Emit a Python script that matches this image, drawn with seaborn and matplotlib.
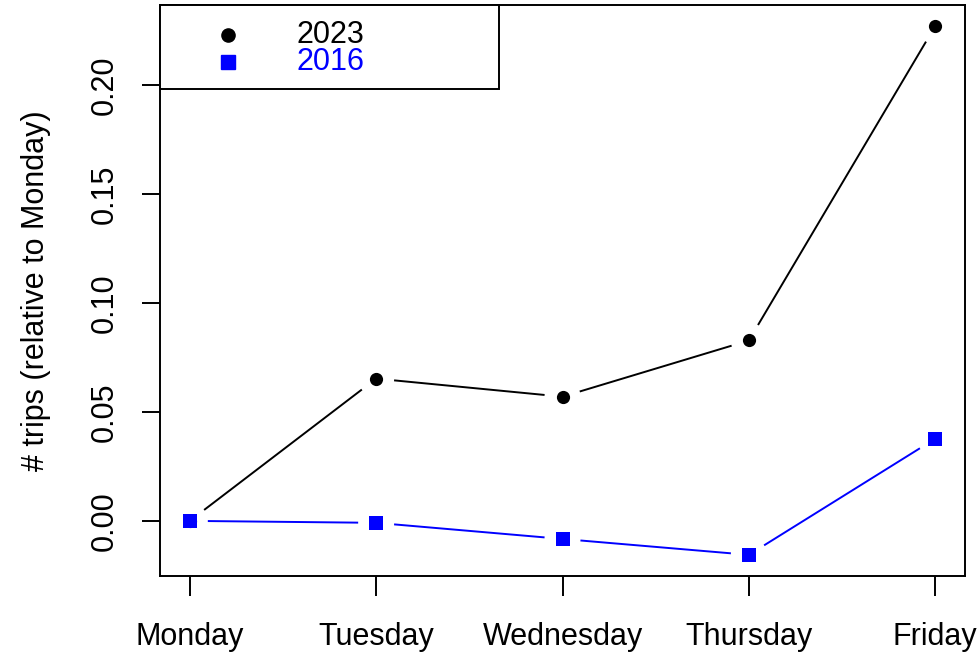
import numpy as np
import pandas as pd
import matplotlib
matplotlib.use("Agg")
import matplotlib.pyplot as plt
from matplotlib.patches import Rectangle
import seaborn as sns

# Weekday trip counts relative to Monday
days = ["Monday", "Tuesday", "Wednesday", "Thursday", "Friday"]
trips_2023 = [0.0, 0.0653, 0.0570, 0.0828, 0.2271]
trips_2016 = [0.0, -0.0009, -0.0083, -0.0156, 0.0377]
years = ["2023", "2016"]
y_ticks = [0.00, 0.05, 0.10, 0.15, 0.20]

colors = {"2023": "black", "2016": "#0000ff"}
markers = {"2023": "o", "2016": "s"}
msize = {"2023": 9.5, "2016": 10}

sns.set_style("white")
plt.rcParams["font.family"] = ["Liberation Sans", "DejaVu Sans"]
plt.rcParams["font.size"] = 22
plt.rcParams["text.color"] = "black"
plt.rcParams["xtick.color"] = "black"
plt.rcParams["ytick.color"] = "black"
plt.rcParams["axes.labelcolor"] = "black"

df = pd.DataFrame({
    "pos": list(range(len(days))) * 2,
    "value": trips_2023 + trips_2016,
    "year": ["2023"] * len(days) + ["2016"] * len(days),
})

fig = plt.figure(figsize=(9.8, 6.53), dpi=100)
ax = fig.add_axes([160 / 980, 77 / 653, 805 / 980, 571 / 653])

# axis ranges with 4% padding on each side
n = len(days)
ax.set_xlim(-0.04 * (n - 1), (n - 1) * 1.04)
allv = np.array(trips_2023 + trips_2016)
lo, hi = allv.min(), allv.max()
pad = 0.04 * (hi - lo)
ax.set_ylim(lo - pad, hi + pad)

for yr in years:
    sub = df[df["year"] == yr]
    sns.scatterplot(data=sub, x="pos", y="value", ax=ax, color=colors[yr],
                    marker=markers[yr], s=msize[yr] ** 2, linewidth=0,
                    legend=False, zorder=3)


def gapped_line(ax, xs, ys, color, gap_px=18):
    """Connect points with segments that stop short of each marker."""
    pts = ax.transData.transform(np.column_stack([xs, ys]))
    inv = ax.transData.inverted()
    for p0, p1 in zip(pts[:-1], pts[1:]):
        d = p1 - p0
        length = np.hypot(*d)
        if length <= 2 * gap_px:
            continue
        u = d / length
        a = inv.transform(p0 + u * gap_px)
        b = inv.transform(p1 - u * gap_px)
        ax.plot([a[0], b[0]], [a[1], b[1]], color=color, lw=1.4,
                solid_capstyle="butt", zorder=2)


gapped_line(ax, range(n), trips_2023, colors["2023"])
gapped_line(ax, range(n), trips_2016, colors["2016"])

ax.set_xticks(range(n))
ax.set_xticklabels(days)
ax.set_yticks(y_ticks)
ax.set_yticklabels([f"{v:.2f}" for v in y_ticks], rotation=90, va="center")
ax.tick_params(axis="x", bottom=True, length=14.5, width=1.4, pad=18.5,
               labelsize=22, direction="out", colors="black")
ax.tick_params(axis="y", left=True, length=13, width=1.4, pad=16,
               labelsize=22, direction="out", colors="black")
ax.set_xlabel("")
ax.set_ylabel("# trips (relative to Monday)", fontsize=22, color="black")
ax.yaxis.set_label_coords((51 - 160) / 805, 0.5)

for sp in ax.spines.values():
    sp.set_visible(True)
    sp.set_color("black")
    sp.set_linewidth(1.4)

# legend box in the top-left corner
ax.add_patch(Rectangle((0, (576 - 89) / 571), (499 - 160) / 805, (89 - 5) / 571,
                       transform=ax.transAxes, facecolor="white", edgecolor="black",
                       lw=1.4, zorder=4, clip_on=False))
row_y = [(576 - 35) / 571, (576 - 62) / 571]
for yr, ry in zip(years, row_y):
    ax.plot([(228 - 160) / 805], [ry], transform=ax.transAxes, marker=markers[yr],
            color=colors[yr], ms=msize[yr], ls="none", zorder=5, clip_on=False)
    ax.text((296 - 160) / 805, ry, yr, transform=ax.transAxes, color=colors[yr],
            fontsize=22, ha="left", va="center", zorder=5)

fig.savefig("out.png", dpi=100)
